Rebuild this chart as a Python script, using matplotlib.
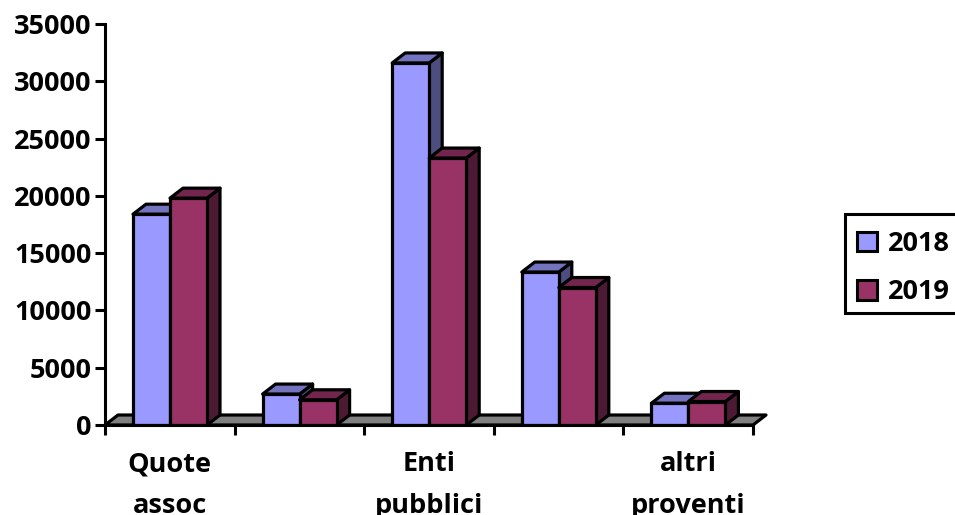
import matplotlib
matplotlib.use("Agg")
import matplotlib.pyplot as plt
from matplotlib.patches import Patch, Rectangle
import numpy as np

categories = ["Quote\nassoc", "", "Enti\npubblici", "", "altri\nproventi"]
years = ["2018", "2019"]
values_2018 = [18400, 2700, 31600, 13350, 1900]
values_2019 = [19800, 2200, 23300, 12000, 2050]
y_ticks = [0, 5000, 10000, 15000, 20000, 25000, 30000, 35000]

W, H = 955, 515
L, R, T, B = 105, 753, 24, 425
plt.rcParams["font.family"] = ["Open Sans", "DejaVu Sans"]
plt.rcParams["font.weight"] = "bold"
FS = 19.5
fig = plt.figure(figsize=(W / 100, H / 100), dpi=100, facecolor="white")
ax = fig.add_axes([L / W, 1 - B / H, (R - L) / W, (B - T) / H])
ax.set_xlim(0, 5)
ax.set_ylim(0, 35000)
ax.patch.set_alpha(0)
for s in ("top", "right"):
    ax.spines[s].set_visible(False)
for s in ("left", "bottom"):
    ax.spines[s].set_linewidth(2.2)
    ax.spines[s].set_zorder(20)

# 3D depth in data units
dx = 13 / ((R - L) / 5)
dy = 10 / ((B - T) / 35000)
bw = 37 / ((R - L) / 5)
off = 28 / ((R - L) / 5)
LW = 2.3

ax.fill([0, dx, 5 + dx, 5], [0, dy, dy, 0], fc="#808080", ec="black", lw=LW,
        zorder=1, clip_on=False, joinstyle="round")

palette = [("#9999FF", "#7373BF", "#4D4D80"), ("#993366", "#73264D", "#4D1A33")]
series = [values_2018, values_2019]
z = 2
for i in range(len(categories)):
    for j, vals in enumerate(series):
        x0 = i + off + j * bw
        v = vals[i]
        front, top, side = palette[j]
        ax.fill([x0 + bw, x0 + bw + dx, x0 + bw + dx, x0 + bw], [0, dy, v + dy, v],
                fc=side, ec="black", lw=LW, zorder=z, clip_on=False, joinstyle="round")
        ax.fill([x0, x0 + dx, x0 + bw + dx, x0 + bw], [v, v + dy, v + dy, v],
                fc=top, ec="black", lw=LW, zorder=z, clip_on=False, joinstyle="round")
        ax.bar(x0, v, width=bw, align="edge", fc=front, ec="black", lw=LW, zorder=z,
               joinstyle="round")
        z += 1

ax.set_yticks(y_ticks)
ax.set_xticks(range(6))
ax.set_xticklabels([])
ax.set_xticks(np.arange(5) + 0.5, categories, minor=True, linespacing=1.76)
ax.tick_params(axis="y", length=7.5, width=2.2, pad=2, labelsize=FS)
ax.tick_params(axis="x", which="major", length=7.5, width=2.2)
ax.tick_params(axis="x", which="minor", length=0, pad=19, labelsize=FS)

fig.add_artist(Rectangle((845 / W, 1 - 313 / H), 120 / W, 99 / H,
                         transform=fig.transFigure, fc="white", ec="black", lw=2.2))
handles = [Patch(fc=palette[k][0], ec="black", lw=2.2, label=years[k]) for k in range(2)]
leg = fig.legend(handles=handles, loc="upper left",
                 bbox_to_anchor=(845 / W, 1 - 219 / H), borderaxespad=0,
                 fontsize=FS, frameon=False,
                 handlelength=0.72, handleheight=0.72,
                 labelspacing=0.82, handletextpad=0.4, borderpad=0.45)
fig.savefig("out.png", dpi=100)
